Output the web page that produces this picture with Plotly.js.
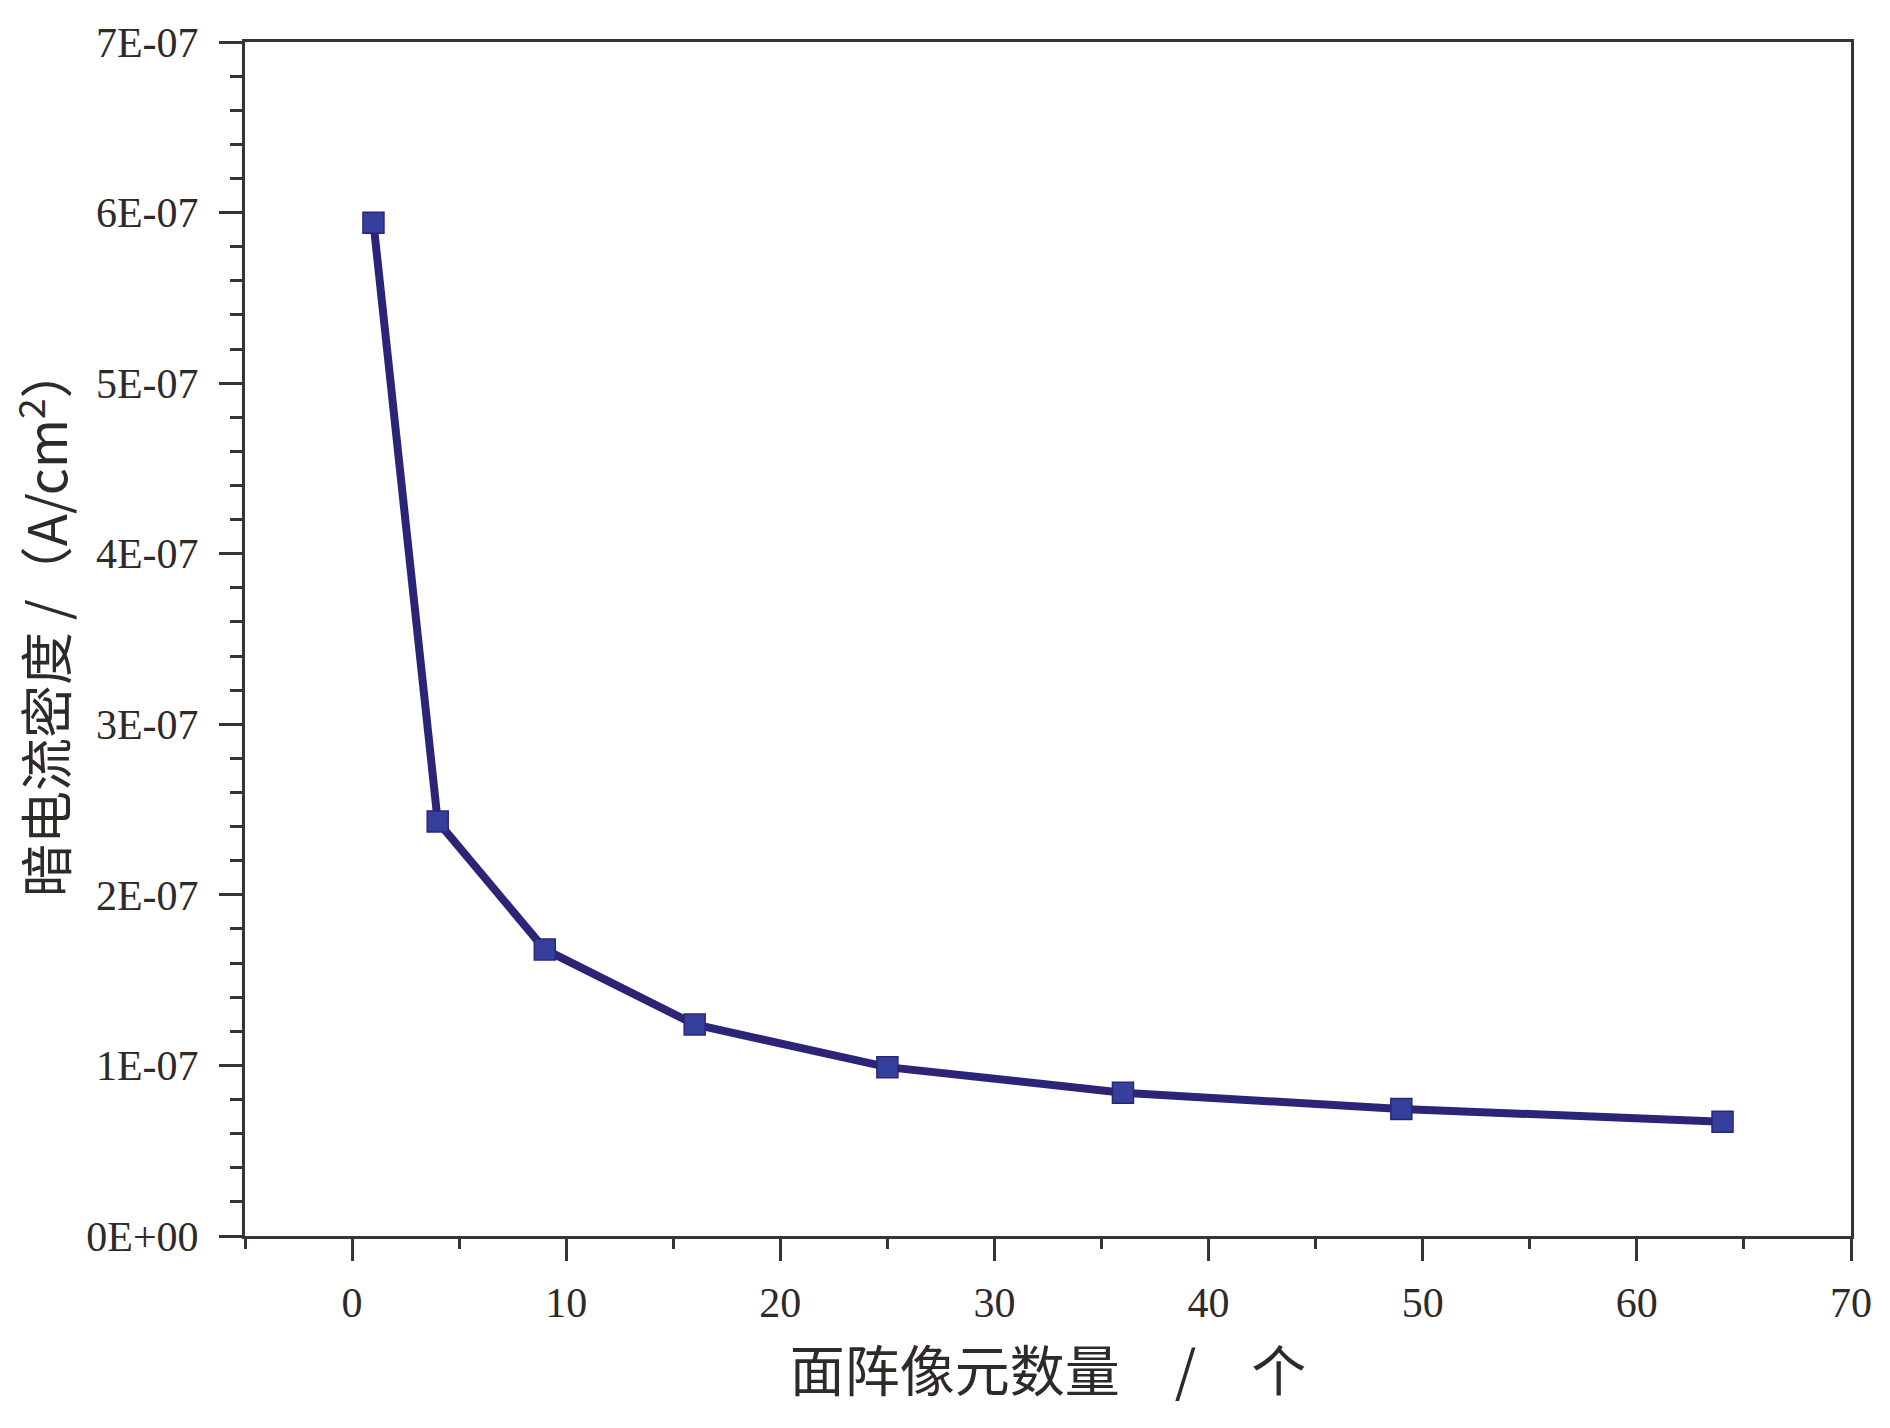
<!DOCTYPE html>
<html>
<head>
<meta charset="utf-8">
<script src="https://cdn.plot.ly/plotly-3.0.1.min.js"></script>
<style>html,body{margin:0;padding:0;background:#fff;}#chart{width:1890px;height:1428px;}</style>
</head>
<body>
<div id="chart"></div>
<script>
const pixelCounts = [1, 4, 9, 16, 25, 36, 49, 64];
const darkCurrentDensity = [5.94e-7, 2.43e-7, 1.68e-7, 1.24e-7, 0.99e-7, 0.84e-7, 0.745e-7, 0.67e-7];
const yTickVals = [0, 1e-7, 2e-7, 3e-7, 4e-7, 5e-7, 6e-7, 7e-7];
const yTickText = ["0E+00", "1E-07", "2E-07", "3E-07", "4E-07", "5E-07", "6E-07", "7E-07"];
const xTickVals = [0, 10, 20, 30, 40, 50, 60, 70];
const xTitle = "面阵像元数量　/　个";
const yTitle = "暗电流密度 /（A/cm<sup>2</sup>）";

const axisColor = "#3a3431";
const tickFont = {family: "Liberation Serif, DejaVu Serif, serif", size: 42, color: "#2e2a28"};
const titleFont = {family: "Noto Sans CJK SC, sans-serif", size: 55, color: "#2e2a28"};
const yTitleFont = {family: "Noto Sans CJK SC, sans-serif", size: 53, color: "#2e2a28"};

const trace = {
  x: pixelCounts,
  y: darkCurrentDensity,
  mode: "lines+markers",
  type: "scatter",
  line: {color: "#2c2577", width: 8},
  marker: {symbol: "square", size: 21, color: "#35409c", line: {color: "#2c2577", width: 1.5}},
  showlegend: false
};

const layout = {
  width: 1890,
  height: 1428,
  margin: {l: 245, r: 39, t: 42, b: 192},
  paper_bgcolor: "#ffffff",
  plot_bgcolor: "#ffffff",
  xaxis: {
    range: [-5, 70],
    tickvals: xTickVals,
    ticks: "outside",
    ticklen: 22,
    tickwidth: 3,
    tickcolor: axisColor,
    showline: true,
    linecolor: axisColor,
    linewidth: 3,
    mirror: true,
    showgrid: false,
    zeroline: false,
    tickfont: tickFont,
    ticklabelstandoff: 6,
    minor: {dtick: 5, tick0: 0, ticks: "outside", ticklen: 10, tickwidth: 3, tickcolor: axisColor, showgrid: false},
    title: {text: xTitle, font: titleFont, standoff: 28},
    automargin: false
  },
  yaxis: {
    range: [0, 7e-7],
    tickvals: yTickVals,
    ticktext: yTickText,
    ticks: "outside",
    ticklen: 23,
    tickwidth: 3,
    tickcolor: axisColor,
    showline: true,
    linecolor: axisColor,
    linewidth: 3,
    mirror: true,
    showgrid: false,
    zeroline: false,
    tickfont: tickFont,
    ticklabelstandoff: 12,
    minor: {dtick: 0.2e-7, tick0: 0, ticks: "outside", ticklen: 12, tickwidth: 3, tickcolor: axisColor, showgrid: false},
    automargin: false
  },
  annotations: [{
    text: yTitle,
    font: yTitleFont,
    textangle: -90,
    xref: "paper",
    yref: "paper",
    x: -0.1265,
    y: 0.515,
    xanchor: "center",
    yanchor: "middle",
    showarrow: false
  }]
};

Plotly.newPlot("chart", [trace], layout, {displayModeBar: false, staticPlot: true});
</script>
</body>
</html>
